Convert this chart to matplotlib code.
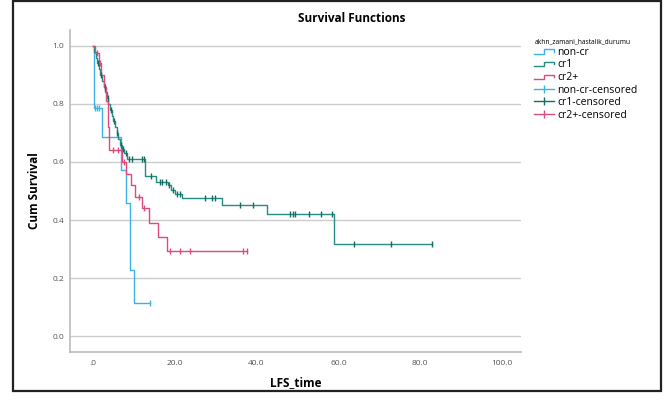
import numpy as np
import matplotlib
matplotlib.use('Agg')
import matplotlib.pyplot as plt
from matplotlib.lines import Line2D
from matplotlib.patches import Rectangle
from matplotlib.legend_handler import HandlerBase

plt.rcParams['font.family'] = ['Open Sans', 'DejaVu Sans']

# Kaplan-Meier steps per group: event times and survival right after each event
noncr_times = [0.2, 2.2, 6.8, 8.2, 9.0, 10.0]
noncr_surv = [0.786, 0.687, 0.573, 0.458, 0.229, 0.114]
noncr_cens = [0.6, 1.1, 1.6, 13.9]

cr1_times = [0.3, 0.7, 1.0, 1.4, 1.8, 2.2, 2.6, 3.0, 3.4, 3.8, 4.2, 4.6, 5.0,
             5.4, 5.8, 6.2, 6.6, 7.0, 7.6, 8.4, 12.7, 15.5, 18.3, 19.0, 20.0,
             21.8, 31.5, 42.5, 58.8]
cr1_surv = [0.98, 0.96, 0.94, 0.92, 0.90, 0.88, 0.86, 0.84, 0.82, 0.80, 0.78,
            0.76, 0.74, 0.72, 0.70, 0.68, 0.66, 0.645, 0.63, 0.61, 0.553,
            0.532, 0.52, 0.505, 0.49, 0.475, 0.452, 0.421, 0.317]
cr1_cens = [1.2, 2.0, 2.9, 3.6, 4.4, 5.2, 6.0, 6.8, 7.4, 8.0, 8.8, 9.6, 12.1,
            12.4, 14.2, 16.3, 17.0, 17.8, 18.7, 19.5, 20.5, 21.2, 27.4, 29.1,
            29.8, 35.9, 39.1, 48.2, 48.8, 49.4, 52.8, 55.7, 58.4, 63.8, 72.9,
            82.8]

cr2_times = [0.6, 1.4, 2.0, 2.6, 3.1, 3.6, 4.0, 7.2, 8.0, 9.2, 10.4, 12.0,
             13.6, 16.0, 18.2]
cr2_surv = [0.975, 0.94, 0.90, 0.86, 0.81, 0.72, 0.64, 0.60, 0.56, 0.52, 0.48,
            0.44, 0.39, 0.34, 0.293]
cr2_cens = [1.0, 1.8, 5.0, 6.2, 7.6, 11.2, 12.6, 18.8, 21.3, 23.7, 36.7, 37.7]

groups = ['non-cr', 'cr1', 'cr2+']
colors = ['#3db2e8', '#238c83', '#df4a7d']
cens_colors = ['#3db2e8', '#146c64', '#df4a7d']
legend_title = 'akhn_zamani_hastalik_durumu'


def surv_at(times, surv, t):
    idx = np.searchsorted(times, t, side='right')
    return 1.0 if idx == 0 else surv[idx - 1]


class StepHandle(HandlerBase):
    """ small step glyph used for the survival lines in the legend """
    def create_artists(self, legend, orig_handle, xdescent, ydescent,
                       width, height, fontsize, trans):
        x0 = -xdescent
        xm = x0 + 0.5 * width
        x1 = x0 + width
        ylo = -ydescent + 0.15 * height
        yhi = -ydescent + 0.75 * height
        ln = Line2D([x0, xm, xm, x1, x1], [ylo, ylo, yhi, yhi, ylo + 0.3 * height],
                    color=orig_handle.get_color(), lw=1.0)
        ln.set_transform(trans)
        return [ln]


fig = plt.figure(figsize=(6.66, 4.07), dpi=100)
fig.patches.append(Rectangle((13 / 666, 16 / 407), 648 / 666, 390 / 407,
                             transform=fig.transFigure, fill=False,
                             edgecolor='#222222', lw=1.6))
ax = fig.add_axes([70 / 666, 55 / 407, 451 / 666, 322 / 407])

data = [(noncr_times, noncr_surv, noncr_cens),
        (cr1_times, cr1_surv, cr1_cens),
        (cr2_times, cr2_surv, cr2_cens)]

step_lines = []
cens_lines = []
for (times, surv, cens), col, ccol, name in zip(data, colors, cens_colors, groups):
    end = max(cens[-1], times[-1])
    xs = [0.0] + list(times) + [end]
    ys = [1.0] + list(surv) + [surv[-1]]
    ln, = ax.step(xs, ys, where='post', color=col, lw=1.0, zorder=3)
    step_lines.append(ln)
    cy = [surv_at(times, surv, t) for t in cens]
    ax.plot(cens, cy, ls='none', marker='|', ms=5, mew=1.0, color=ccol, zorder=4)
    cens_lines.append(Line2D([], [], color=ccol, lw=1.0, marker='|', ms=6, mew=1.0))

ax.set_xlim(-5.6, 104.6)
ax.set_ylim(-0.055, 1.055)
ax.set_yticks(np.arange(0, 1.01, 0.2))
ax.set_xticks(np.arange(0, 101, 20))
ax.set_yticklabels(['0.0', '0.2', '0.4', '0.6', '0.8', '1.0'])
ax.set_xticklabels(['.0', '20.0', '40.0', '60.0', '80.0', '100.0'])
ax.tick_params(axis='y', length=0, labelsize=6, labelcolor='#555555', pad=4)
ax.tick_params(axis='x', length=0, labelsize=6, labelcolor='#555555', pad=6)
ax.yaxis.grid(True, color='#cccccc', lw=1.0)
ax.set_axisbelow(True)
for s in ['top', 'right']:
    ax.spines[s].set_visible(False)
for s in ['left', 'bottom']:
    ax.spines[s].set_color('#bbbbbb')
    ax.spines[s].set_linewidth(1.2)

fig.text(35 / 666, 1 - 191 / 407, 'Cum Survival', fontsize=8.5,
         fontweight='bold', rotation=90, ha='center', va='center')
fig.text(296 / 666, 1 - 383 / 407, 'LFS_time', fontsize=8.5,
         fontweight='bold', ha='center', va='center')
fig.text(352 / 666, 1 - 19 / 407, 'Survival Functions', fontsize=8.5,
         fontweight='bold', ha='center', va='center')

handles = step_lines + cens_lines
labels = groups + [g + '-censored' for g in groups]
leg = fig.legend(handles, labels, loc='upper left',
                 bbox_to_anchor=(527 / 666, 1 - 31 / 407),
                 bbox_transform=fig.transFigure, frameon=False,
                 title=legend_title, title_fontsize=4.8, fontsize=7.5,
                 alignment='left', handlelength=1.9, handletextpad=0.3,
                 labelspacing=0.15, borderpad=0.2,
                 handler_map={ln: StepHandle() for ln in step_lines})

fig.savefig('out.png', dpi=100)
plt.close()
